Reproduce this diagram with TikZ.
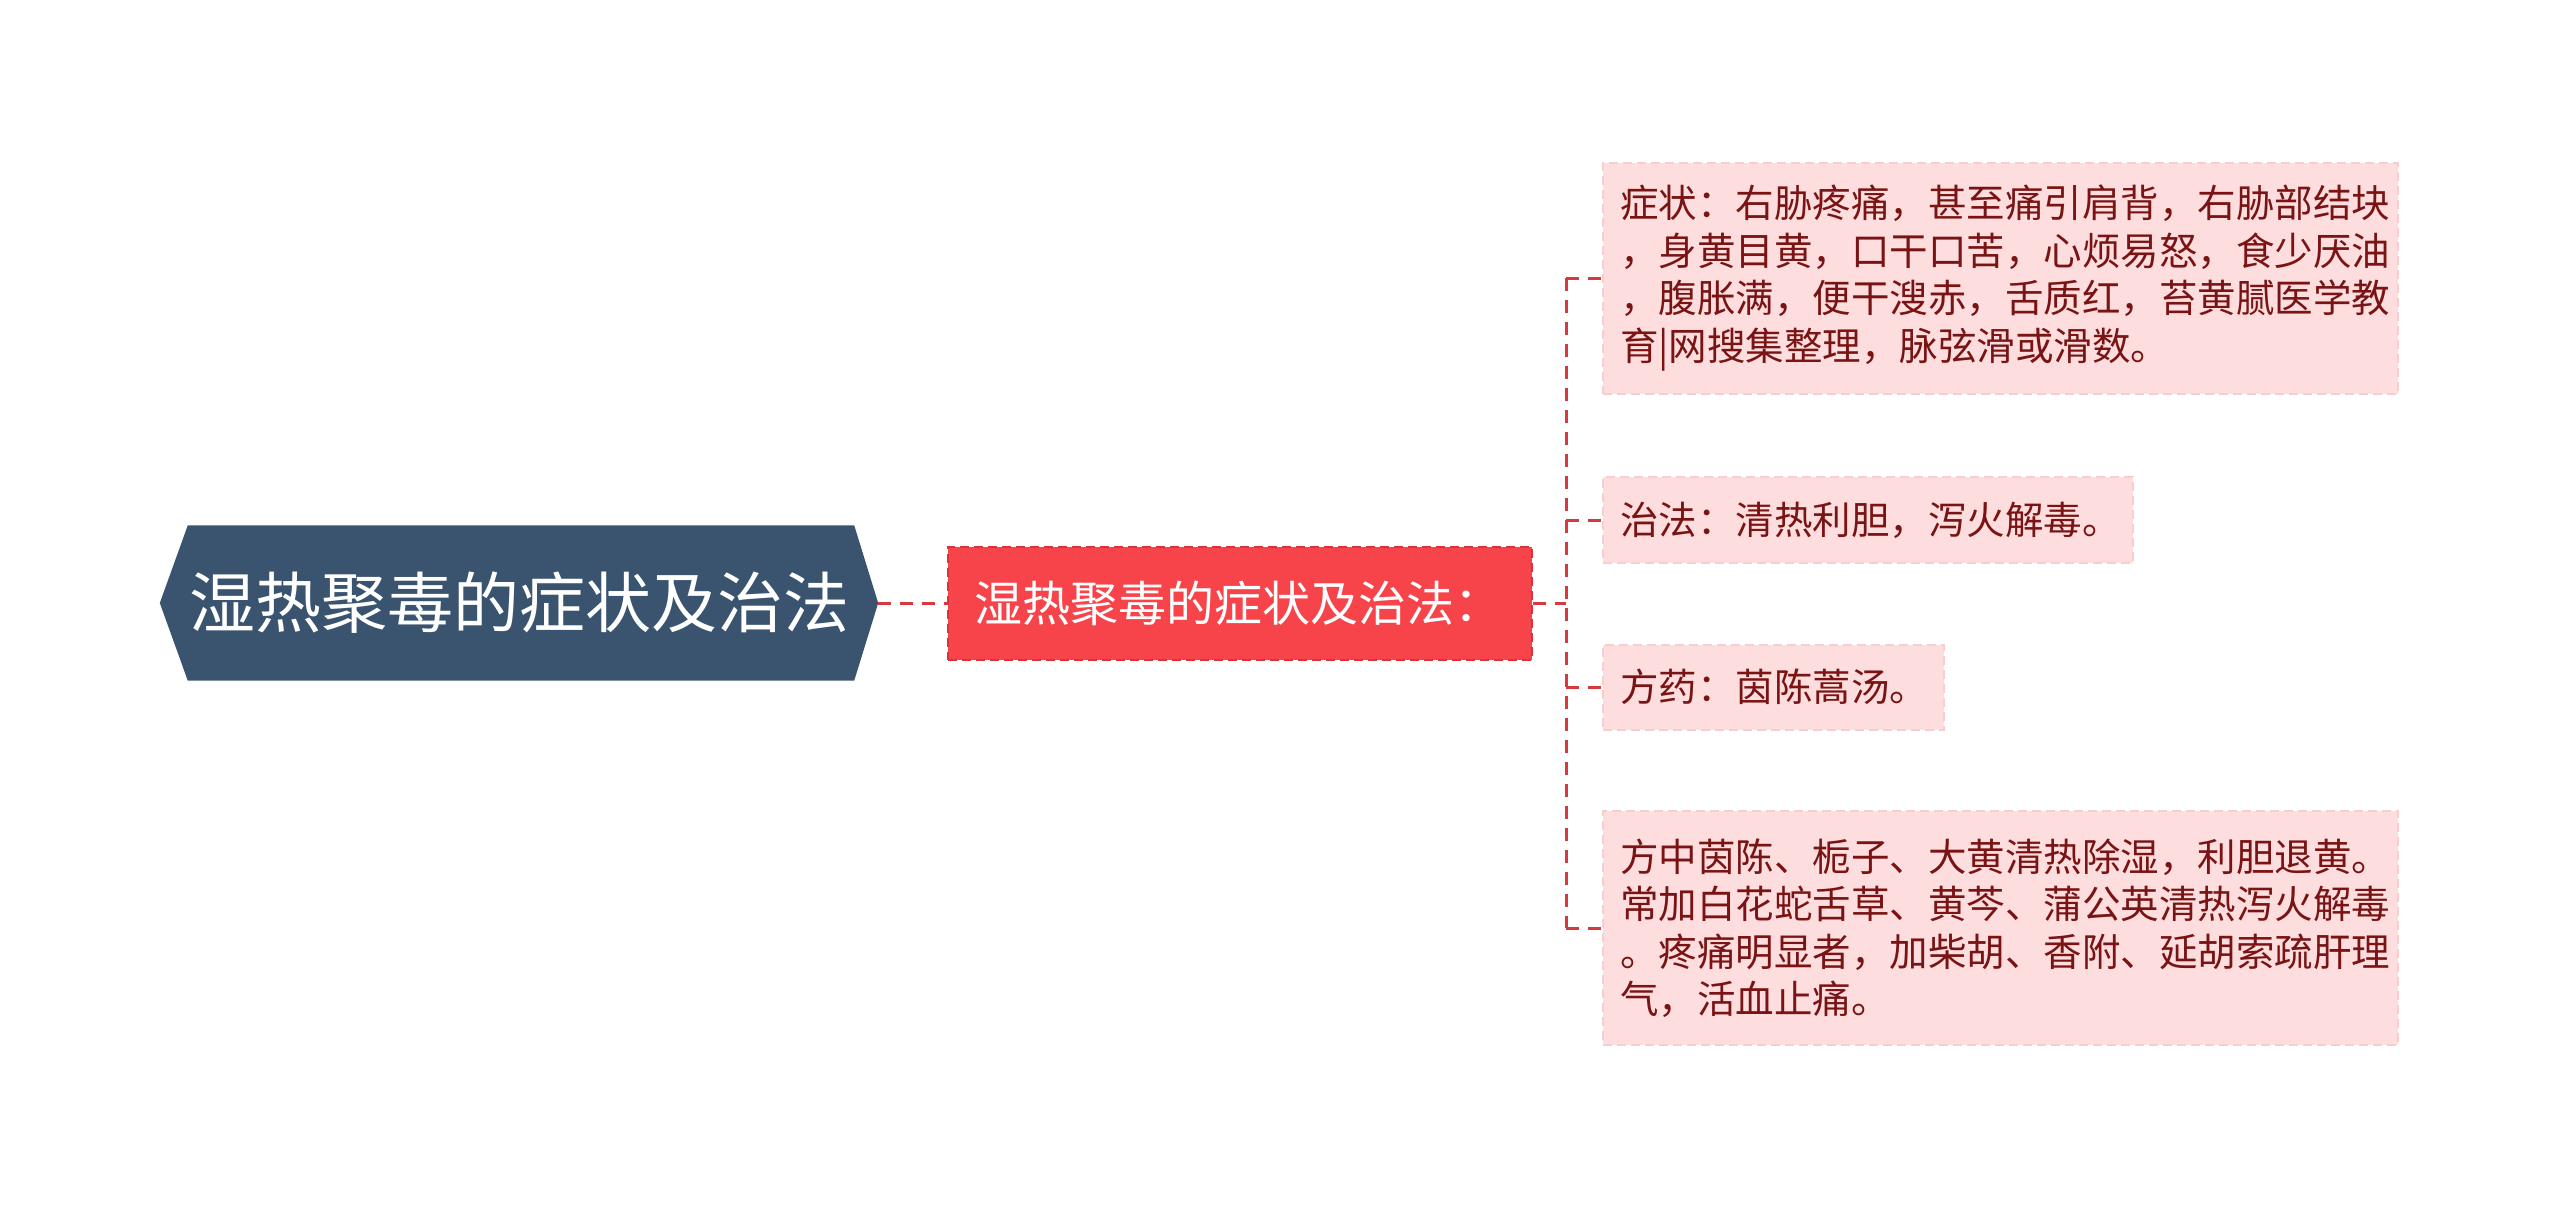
\documentclass[tikz,border=0pt]{standalone}
\usepackage{fontspec}
\usepackage{tikz}
\usetikzlibrary{positioning, backgrounds}
\newfontfamily\cjk{Noto Sans CJK SC}
\definecolor{rootblue}{HTML}{3A5470}
\definecolor{sumred}{HTML}{F7444A}
\definecolor{sumedge}{HTML}{D8343A}
\definecolor{linkred}{HTML}{D8383F}
\definecolor{leafpink}{HTML}{FDDDDE}
\definecolor{leafedge}{HTML}{F8CDCF}
\definecolor{leaftext}{HTML}{7A1414}

\begin{document}
\begin{tikzpicture}[x=1pt, y=-1pt,
    roottext/.style={inner sep=0pt, minimum width=718pt, minimum height=155pt, text=white, font=\cjk\fontsize{66}{80}\selectfont},
    sumbox/.style={fill=sumred, draw=sumedge, line width=2pt, dash pattern=on 9pt off 5pt, inner xsep=26pt, inner ysep=0pt, text width=532pt, align=left, minimum height=113pt, text=white, font=\cjk\fontsize{48}{58}\selectfont},
    leafbox/.style={fill=leafpink, draw=leafedge, line width=2pt, dash pattern=on 9pt off 5pt, inner xsep=17pt, inner ysep=0pt, align=left, text=leaftext, font=\cjk\fontsize{38.5}{47.5}\selectfont},
    link/.style={draw=linkred, line width=3pt, dash pattern=on 13pt off 9pt}
  ]
  \useasboundingbox (0,0) rectangle (2560,1207);

  \node[roottext] (root) at (519, 603) {湿热聚毒的症状及治法};
  \begin{scope}[on background layer]
    \fill[rootblue] (root.west) -- ([xshift=28pt]root.north west) -- ([xshift=-24pt]root.north east)
      -- (root.east) -- ([xshift=-24pt]root.south east) -- ([xshift=28pt]root.south west) -- cycle;
  \end{scope}

  \node[sumbox, anchor=west] (sum) at (947, 603) {湿热聚毒的症状及治法：};

  \node[leafbox, anchor=west, text width=761pt, minimum height=231pt] (sym) at (1602, 278)
    {症状：右胁疼痛，甚至痛引肩背，右胁部结块\\，身黄目黄，口干口苦，心烦易怒，食少厌油\\，腹胀满，便干溲赤，舌质红，苔黄腻医学教\\育|网搜集整理，脉弦滑或滑数。};
  \node[leafbox, anchor=west, text width=496pt, minimum height=86pt] (cure) at (1602, 520)
    {治法：清热利胆，泻火解毒。};
  \node[leafbox, anchor=west, text width=307pt, minimum height=85pt] (recipe) at (1602, 687)
    {方药：茵陈蒿汤。};
  \node[leafbox, anchor=west, text width=761pt, minimum height=234pt] (note) at (1602, 928)
    {方中茵陈、栀子、大黄清热除湿，利胆退黄。\\常加白花蛇舌草、黄芩、蒲公英清热泻火解毒\\。疼痛明显者，加柴胡、香附、延胡索疏肝理\\气，活血止痛。};

  \draw[link] (root.east) -- (sum.west);
  \draw[link] (sum.east) -- ++(33, 0) coordinate (trunk);
  \draw[link] (trunk |- sym.west) -- (trunk |- note.west);
  \draw[link] (trunk |- sym.west) -- (sym.west);
  \draw[link] (trunk |- cure.west) -- (cure.west);
  \draw[link] (trunk |- recipe.west) -- (recipe.west);
  \draw[link] (trunk |- note.west) -- (note.west);
\end{tikzpicture}
\end{document}
